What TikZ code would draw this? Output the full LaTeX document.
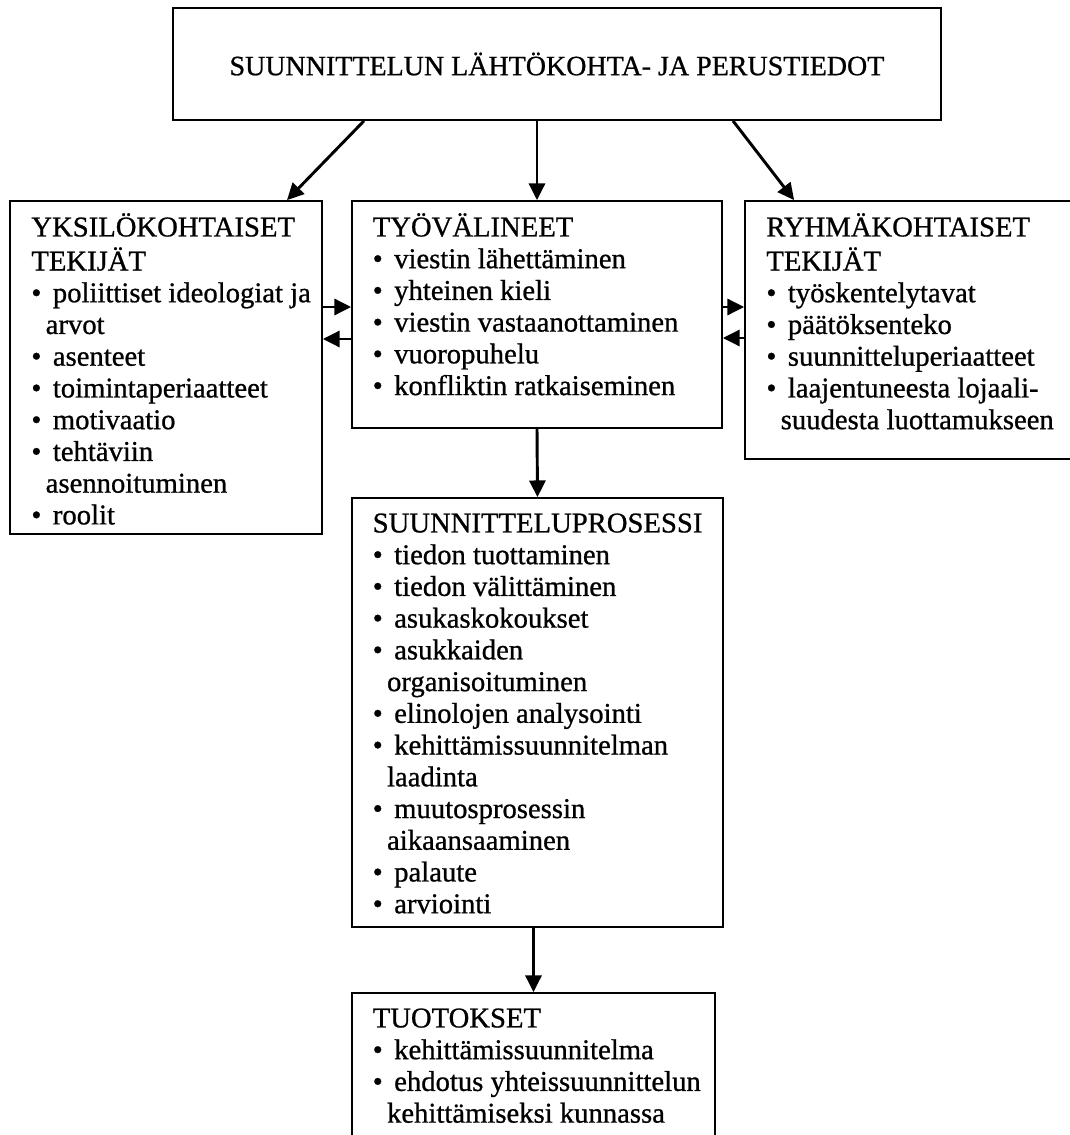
\documentclass[tikz,border=0pt]{standalone}
\usepackage{fontspec}
\setmainfont{Liberation Serif}
\newfontfamily\kaaviofont[FakeBold=0.8]{Liberation Serif}
\usetikzlibrary{arrows.meta}
\usetikzlibrary{positioning}

\newcommand{\kohta}{\textbullet\hspace{0.4em}}
\newcommand{\jatko}{\hspace*{0.5em}}

\begin{document}
\begin{tikzpicture}[x=0.75pt,y=-0.75pt,
  laatikko/.style={draw=black,line width=1.3pt,rectangle,inner sep=0pt},
  teksti/.style={font=\kaaviofont\fontsize{21.5}{23.8}\selectfont,align=left,inner sep=0pt,anchor=north west},
  nuoli/.style={line width=2.2pt,-{Triangle[length=12.5pt,width=12pt]}}]
\clip (0,0) rectangle (1070,1135);

\node[laatikko,minimum width=576pt,minimum height=84pt,font=\kaaviofont\fontsize{21}{23.8}\selectfont] (lahto) at (557,64) {SUUNNITTELUN LÄHTÖKOHTA- JA PERUSTIEDOT};
\node[laatikko,minimum width=234pt,minimum height=249.75pt] (yksilo) at (166,367.5) {};
\node[laatikko,minimum width=277.5pt,minimum height=170.25pt] (tyovali) at (537,314.5) {};
\node[laatikko,minimum width=251.25pt,minimum height=193.5pt] (ryhma) at (912.5,330) {};
\node[laatikko,minimum width=278.25pt,minimum height=321.75pt] (prosessi) at (537.5,712.5) {};
\node[laatikko,minimum width=272.25pt,minimum height=150pt] (tuotos) at (533.5,1093) {};

\node[teksti] (yksilo teksti) at ([xshift=16.5pt,yshift=-9.6pt]yksilo.north west) {\strut YKSILÖKOHTAISET\\
TEKIJÄT\\
\kohta poliittiset ideologiat ja\\
\jatko arvot\\
\kohta asenteet\\
\kohta toimintaperiaatteet\\
\kohta motivaatio\\
\kohta tehtäviin\\
\jatko asennoituminen\\
\kohta roolit};
\node[teksti] (tyovali teksti) at ([xshift=16pt,yshift=-9.6pt]tyovali.north west) {\strut TYÖVÄLINEET\\
\kohta viestin lähettäminen\\
\kohta yhteinen kieli\\
\kohta viestin vastaanottaminen\\
\kohta vuoropuhelu\\
\kohta konfliktin ratkaiseminen};
\node[teksti] (ryhma teksti) at ([xshift=16.5pt,yshift=-9.6pt]ryhma.north west) {\strut RYHMÄKOHTAISET\\
TEKIJÄT\\
\kohta työskentelytavat\\
\kohta päätöksenteko\\
\kohta suunnitteluperiaatteet\\
\kohta laajentuneesta lojaali-\\
\jatko suudesta luottamukseen};
\node[teksti] (prosessi teksti) at ([xshift=16pt,yshift=-9.6pt]prosessi.north west) {\strut SUUNNITTELUPROSESSI\\
\kohta tiedon tuottaminen\\
\kohta tiedon välittäminen\\
\kohta asukaskokoukset\\
\kohta asukkaiden\\
\jatko organisoituminen\\
\kohta elinolojen analysointi\\
\kohta kehittämissuunnitelman\\
\jatko laadinta\\
\kohta muutosprosessin\\
\jatko aikaansaaminen\\
\kohta palaute\\
\kohta arviointi};
\node[teksti] (tuotos teksti) at ([xshift=16pt,yshift=-9.6pt]tuotos.north west) {\strut TUOTOKSET\\
\kohta kehittämissuunnitelma\\
\kohta ehdotus yhteissuunnittelun\\
\jatko kehittämiseksi kunnassa};

\draw[nuoli] ([xshift=-144.75pt]lahto.south) -- ([xshift=90.75pt]yksilo.north);
\draw[nuoli] (tyovali.north |- lahto.south) -- (tyovali.north);
\draw[nuoli] ([xshift=132pt]lahto.south) -- ([xshift=37.5pt]ryhma.north west);
\draw[nuoli] (yksilo.east |- 0,307) -- (tyovali.west |- 0,307);
\draw[nuoli] (tyovali.west |- 0,339) -- (yksilo.east |- 0,339);
\draw[nuoli] (tyovali.east |- 0,307) -- (ryhma.west |- 0,307);
\draw[nuoli] (ryhma.west |- 0,338) -- (tyovali.east |- 0,338);
\draw[nuoli] (tyovali.south) -- (prosessi.north);
\draw[nuoli] (prosessi.south -| tuotos.north) -- (tuotos.north);

\end{tikzpicture}
\end{document}
